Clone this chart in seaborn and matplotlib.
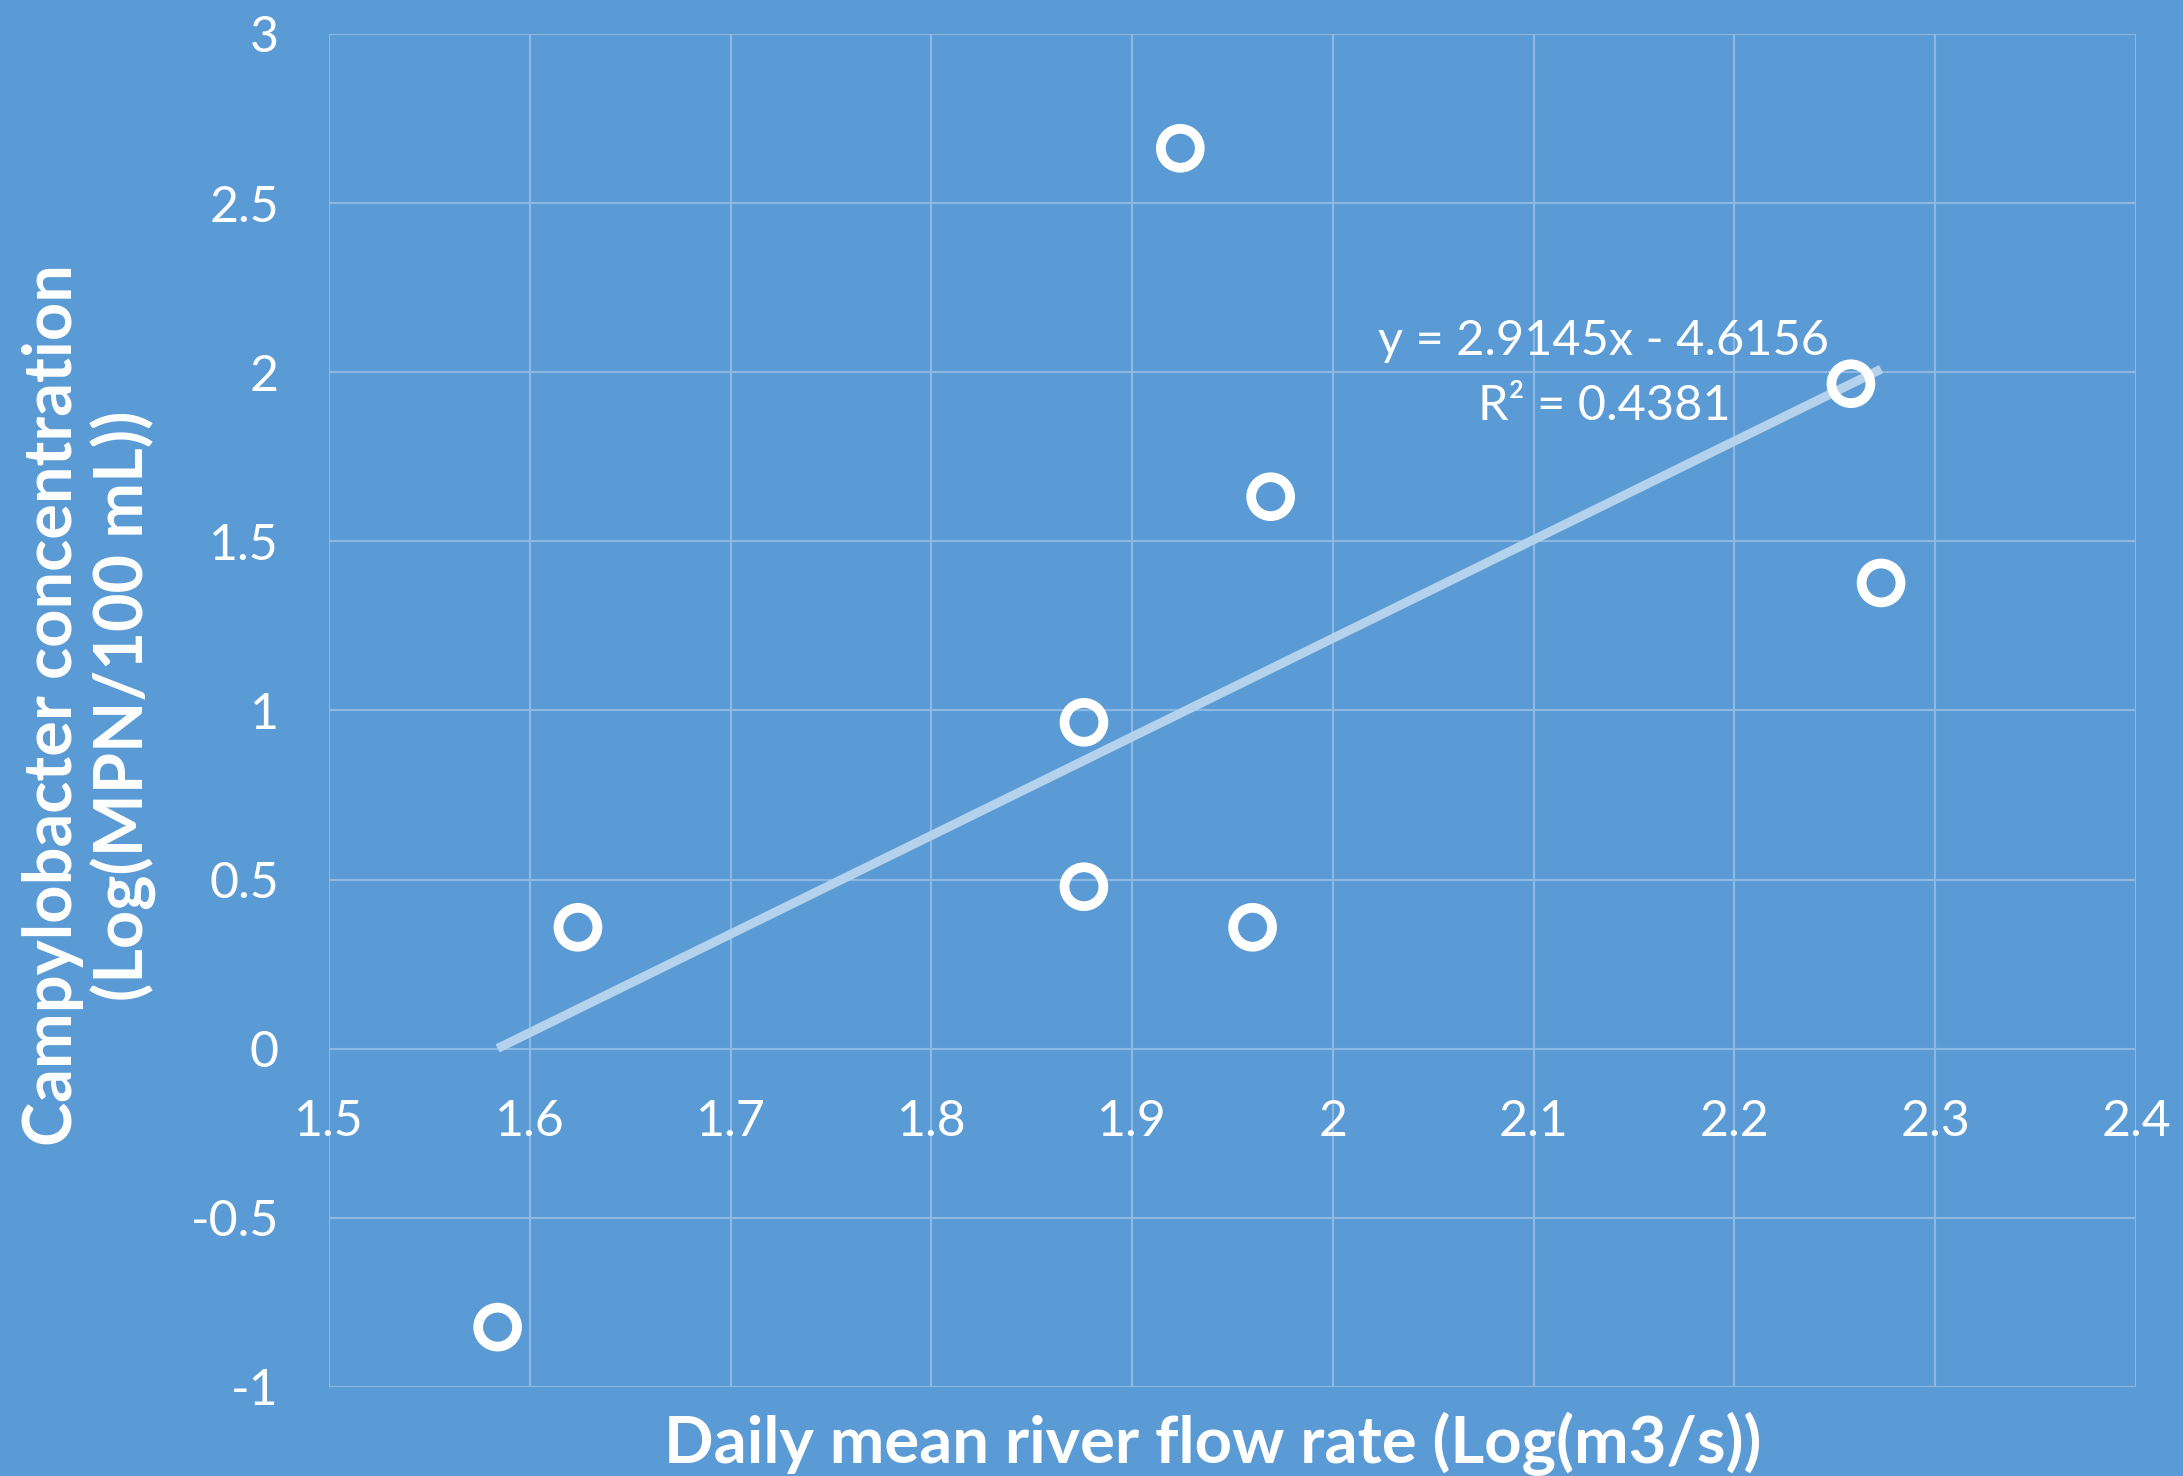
import numpy as np
import pandas as pd
import seaborn as sns
import matplotlib.pyplot as plt
import matplotlib.ticker as mticker

# values
flow_log = [1.584, 1.624, 1.876, 1.876, 1.924, 1.969, 1.960, 2.258, 2.273]
campy_log = [-0.823, 0.359, 0.965, 0.479, 2.662, 1.632, 0.359, 1.966, 1.377]
slope = 2.9145
intercept = -4.6156
r2 = 0.4381
x_ticks = [1.5, 1.6, 1.7, 1.8, 1.9, 2.0, 2.1, 2.2, 2.3, 2.4]
y_ticks = [-1, -0.5, 0, 0.5, 1, 1.5, 2, 2.5, 3]

BG = "#5B9BD5"
GRID = "#8CB8E1"
TREND = "#B5D2EC"

sns.set_style("white", rc={"axes.facecolor": BG, "figure.facecolor": BG})
plt.rcParams["font.family"] = ["Lato", "DejaVu Sans"]

df = pd.DataFrame({"flow": flow_log, "campy": campy_log})
fit_x = np.array([df["flow"].min(), df["flow"].max()])
fit = pd.DataFrame({"flow": fit_x, "campy": slope * fit_x + intercept})

fig = plt.figure(figsize=(21.83, 14.76), dpi=100)
ax = fig.add_axes([0.1507, 0.0603, 0.8278, 0.9167])

sns.lineplot(data=fit, x="flow", y="campy", color=TREND, linewidth=6.5,
             solid_capstyle="butt", ax=ax, zorder=2)
sns.scatterplot(data=df, x="flow", y="campy", s=784, marker="o",
                facecolor="none", edgecolor="white", linewidth=7, ax=ax, zorder=3)

ax.set_xlim(1.5, 2.4)
ax.set_ylim(-1, 3)
ax.set_xticks(x_ticks)
ax.set_yticks(y_ticks)
fmt = mticker.FuncFormatter(lambda v, _: f"{v:g}")
ax.xaxis.set_major_formatter(fmt)
ax.yaxis.set_major_formatter(fmt)
ax.grid(True, color=GRID, linewidth=1.5)
ax.set_axisbelow(True)

for s in ["top", "right", "left"]:
    ax.spines[s].set_visible(False)
ax.spines["bottom"].set_position(("data", 0))
ax.spines["bottom"].set_linewidth(0)

ax.tick_params(axis="x", length=0, pad=36, labelsize=36, colors="white")
ax.tick_params(axis="y", length=0, pad=36, labelsize=36, colors="white")
ax.set_xlabel("")
ax.set_ylabel("")

ax.text(2.135, 2.093, f"y = {slope}x - {abs(intercept)}", color="white",
        fontsize=35, ha="center", va="center")
ax.text(2.135, 1.90, f"R² = {r2}", color="white", fontsize=35,
        ha="center", va="center")

fig.text(0.5557, 0.0088, "Daily mean river flow rate (Log(m3/s))", color="white",
         fontsize=47, fontweight="bold", ha="center", va="baseline")
fig.text(0.041, 0.522, "Campylobacter concentration\n(Log(MPN/100 mL))", color="white",
         fontsize=48, fontweight="bold", ha="center", va="center", rotation=90,
         multialignment="center", linespacing=1.15)

plt.savefig("out.png", dpi=100, facecolor=BG)
